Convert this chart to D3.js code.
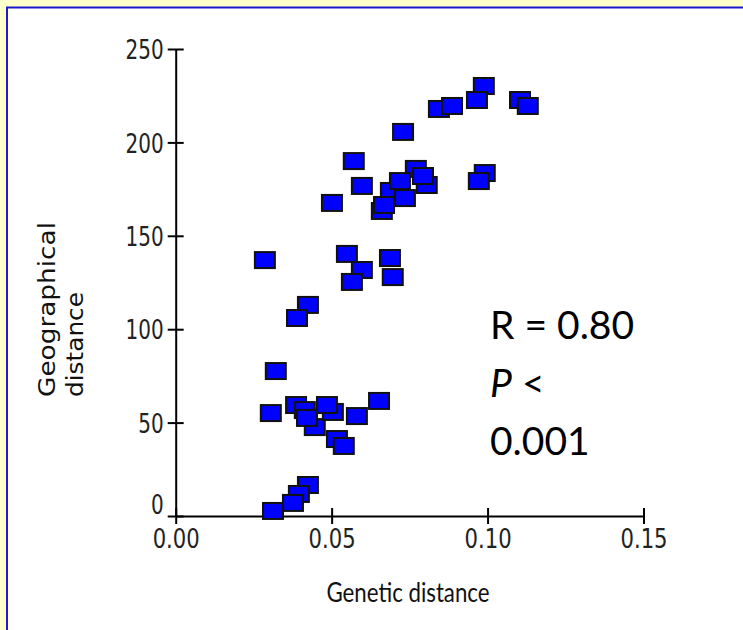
<!DOCTYPE html>
<html>
<head>
<meta charset="utf-8">
<script src="https://cdnjs.cloudflare.com/ajax/libs/d3/7.8.5/d3.min.js"></script>
<style>
  body { margin: 0; background: #fff; }
  svg { display: block; }
</style>
</head>
<body>
<div id="chart-area"></div>
<script>
// Values
var geneticDist = [0.0844, 0.0886, 0.0988, 0.0966, 0.1104, 0.1129, 0.0729, 0.0571, 0.0597, 0.0501,
                   0.0805, 0.0770, 0.0793, 0.0690, 0.0719, 0.0735, 0.0661, 0.0668, 0.0991, 0.0972,
                   0.0286, 0.0549, 0.0597, 0.0565, 0.0687, 0.0696, 0.0424, 0.0389,
                   0.0321, 0.0305, 0.0386, 0.0414, 0.0446, 0.0421, 0.0504, 0.0485, 0.0581, 0.0652,
                   0.0517, 0.0539, 0.0424, 0.0395, 0.0312, 0.0376];
var geoDist = [217.9, 219.5, 230.2, 222.7, 222.7, 219.5, 205.6, 190.0, 176.7, 167.6,
               177.2, 185.8, 182.0, 174.0, 179.3, 170.2, 163.3, 166.5, 183.6, 179.3,
               137.0, 140.3, 131.7, 125.3, 138.1, 127.9, 113.0, 106.0,
               77.6, 55.1, 59.4, 56.7, 47.6, 52.5, 55.7, 59.4, 53.5, 61.6,
               41.2, 37.5, 16.6, 11.8, 2.7, 7.0];
var xTicks = [0, 0.05, 0.10, 0.15];
var yTicks = [0, 50, 100, 150, 200, 250];
var statLines = ["R = 0.80", "P <", "0.001"];

var width = 743, height = 630;

var svg = d3.select("#chart-area")
    .append("svg")
        .attr("width", width)
        .attr("height", height);

// slide frame: yellow strip and blue line on top and left
svg.append("rect").attr("width", width).attr("height", height).attr("fill", "#fff");
svg.append("rect").attr("width", width).attr("height", 7).attr("fill", "#ffffcc");
svg.append("rect").attr("width", 6).attr("height", height).attr("fill", "#ffffcc");
svg.append("line").attr("x1", 6).attr("x2", width).attr("y1", 7.5).attr("y2", 7.5)
    .attr("stroke", "#1a1ad0").attr("stroke-width", 2);
svg.append("line").attr("x1", 7).attr("x2", 7).attr("y1", 7).attr("y2", height)
    .attr("stroke", "#1a1ad0").attr("stroke-width", 2);

// Scales
var x = d3.scaleLinear().domain([0, 0.15]).range([175.7, 643.5]);
var y = d3.scaleLinear().domain([0, 250]).range([516, 49]);

// old chart font is tall and narrow: squeeze a condensed face
var tickFont = "'DejaVu Sans Condensed', 'DejaVu Sans', sans-serif";
function squeeze(s) {
    var dots = (s.match(/\./g) || []).length;
    return (s.length - dots) * 12.7 + dots * 9;
}

// X axis
var xAxisGroup = svg.append("g")
    .attr("transform", "translate(0,516)")
    .call(d3.axisBottom(x).tickValues(xTicks).tickSize(8).tickSizeOuter(0)
        .tickFormat(d3.format(".2f")));
xAxisGroup.select(".domain").attr("stroke-width", 2);
xAxisGroup.selectAll(".tick line").attr("y1", -8).attr("stroke-width", 2);
xAxisGroup.selectAll(".tick text")
    .attr("y", 14).attr("dy", "0.71em")
    .attr("font-family", tickFont).attr("font-size", 26).attr("fill", "#222")
    .attr("lengthAdjust", "spacingAndGlyphs")
    .attr("textLength", function(){ return squeeze(this.textContent); });

// Y axis
var yAxisGroup = svg.append("g")
    .attr("transform", "translate(175.7,0)")
    .call(d3.axisLeft(y).tickValues(yTicks).tickSize(8).tickSizeOuter(0));
yAxisGroup.select(".domain").attr("stroke-width", 2);
yAxisGroup.selectAll(".tick line").attr("x1", 8).attr("stroke-width", 2);
yAxisGroup.selectAll(".tick text")
    .attr("x", -12)
    .attr("dy", function(d){ return d === 0 ? "-0.1em" : "0.36em"; })
    .attr("font-family", tickFont).attr("font-size", 27).attr("fill", "#222")
    .attr("lengthAdjust", "spacingAndGlyphs")
    .attr("textLength", function(){ return squeeze(this.textContent); });
svg.selectAll(".domain").attr("stroke", "#000");

// Points
svg.append("g").selectAll("rect")
    .data(geneticDist)
    .enter().append("rect")
        .attr("x", function(d){ return x(d) - 10; })
        .attr("y", function(d, i){ return y(geoDist[i]) - 8; })
        .attr("width", 20)
        .attr("height", 16)
        .attr("fill", "#0000ff")
        .attr("stroke", "#111")
        .attr("stroke-width", 2);

// X Label
svg.append("text")
    .attr("x", 408)
    .attr("y", 602)
    .attr("font-family", "Lato, 'Open Sans', sans-serif")
    .attr("font-size", 27)
    .attr("text-anchor", "middle")
    .attr("textLength", 163)
    .attr("lengthAdjust", "spacingAndGlyphs")
    .attr("fill", "#111")
    .text("Genetic distance");

// Y Label, two lines
svg.append("text")
    .attr("transform", "translate(55,397) rotate(-90)")
    .attr("font-family", "'DejaVu Sans', Verdana, sans-serif")
    .attr("font-size", 23)
    .attr("textLength", 175)
    .attr("lengthAdjust", "spacingAndGlyphs")
    .attr("fill", "#111")
    .text("Geographical");
svg.append("text")
    .attr("transform", "translate(83,397) rotate(-90)")
    .attr("font-family", "'DejaVu Sans', Verdana, sans-serif")
    .attr("font-size", 23)
    .attr("textLength", 105)
    .attr("lengthAdjust", "spacingAndGlyphs")
    .attr("fill", "#111")
    .text("distance");

// Statistics
var stats = svg.append("g")
    .attr("font-family", "Lato, 'Open Sans', sans-serif")
    .attr("font-size", 39)
    .attr("fill", "#000");
stats.append("text").attr("x", 490).attr("y", 339).text(statLines[0]);
var pLine = stats.append("text").attr("x", 490).attr("y", 397);
pLine.append("tspan").attr("font-style", "italic").text(statLines[1].split(" ")[0]);
pLine.append("tspan").text(" " + statLines[1].split(" ")[1]);
stats.append("text").attr("x", 490).attr("y", 455).text(statLines[2]);
</script>
</body>
</html>
